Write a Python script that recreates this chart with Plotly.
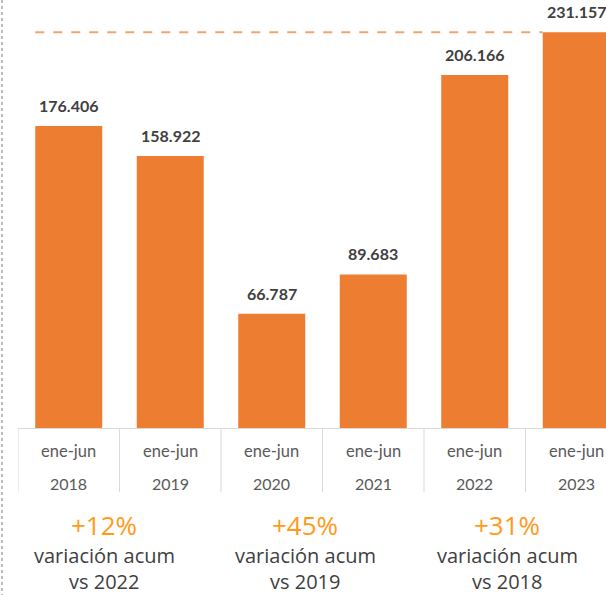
import plotly.graph_objects as go

periods = ["ene-jun"] * 6
years = ["2018", "2019", "2020", "2021", "2022", "2023"]
values = [176406, 158922, 66787, 89683, 206166, 231157]

var_pcts = ["+12%", "+45%", "+31%"]
var_text = ["variación acum", "variación acum", "variación acum"]
var_vs = ["vs 2022", "vs 2019", "vs 2018"]
var_pos = [0.35, 2.33, 4.32]

BAR = "#ED7D31"
DARK = "#404040"
GRAY = "#595959"
LABEL_FONT = "Lato"
NOTE_FONT = "Open Sans"

idx = list(range(len(years)))

fig = go.Figure()
fig.add_trace(go.Bar(
    x=idx, y=values, width=0.66,
    marker=dict(color=BAR, line=dict(width=0)),
    hoverinfo="skip",
))

shapes = []
# dashed reference line at the 2023 value
shapes.append(dict(type="line", xref="x", yref="y",
                   x0=idx[0] - 0.33, x1=idx[-1] - 0.33,
                   y0=values[-1], y1=values[-1],
                   line=dict(color="#F0A56E", width=2, dash="dash")))
# category separators below axis
for i in idx + [len(idx)]:
    shapes.append(dict(type="line", xref="x", yref="paper",
                       x0=i - 0.5, x1=i - 0.5, y0=0, y1=-0.15,
                       line=dict(color="#D9D9D9", width=1)))
# dotted left border
shapes.append(dict(type="line", xref="paper", yref="paper",
                   x0=-16 / 588, x1=-16 / 588, y0=1.0, y1=-167 / 428,
                   line=dict(color="#A6A6A6", width=1.5, dash="dot")))

ann = []
for i, v in enumerate(values):
    ann.append(dict(x=i, y=v, xref="x", yref="y", yshift=9,
                    text=f"{v:,}".replace(",", "."), showarrow=False,
                    yanchor="bottom",
                    font=dict(family=LABEL_FONT, size=16, color=DARK, weight="bold")))
for i, (p, yr) in enumerate(zip(periods, years)):
    ann.append(dict(x=i, y=0, xref="x", yref="paper", yshift=-23,
                    text=p, showarrow=False, yanchor="middle",
                    font=dict(family=LABEL_FONT, size=16.5, color=GRAY)))
    ann.append(dict(x=i, y=0, xref="x", yref="paper", yshift=-55,
                    text=yr, showarrow=False, yanchor="middle",
                    font=dict(family=LABEL_FONT, size=16, color=GRAY)))
for xp, a, b, c in zip(var_pos, var_pcts, var_text, var_vs):
    ann.append(dict(x=xp, y=0, xref="x", yref="paper", yshift=-97,
                    text=a, showarrow=False, yanchor="middle", borderpad=0,
                    font=dict(family=NOTE_FONT, size=26, color="#FF9A1A")))
    ann.append(dict(x=xp, y=0, xref="x", yref="paper", yshift=-127,
                    text=b, showarrow=False, yanchor="middle", borderpad=0,
                    font=dict(family=NOTE_FONT, size=20, color=DARK)))
    ann.append(dict(x=xp, y=0, xref="x", yref="paper", yshift=-153,
                    text=c, showarrow=False, yanchor="middle", borderpad=0,
                    font=dict(family=NOTE_FONT, size=20, color=DARK)))

fig.update_layout(
    width=606, height=595,
    margin=dict(l=18, r=0, t=0, b=167),
    paper_bgcolor="white", plot_bgcolor="white",
    showlegend=False,
    bargap=0.34,
    shapes=shapes, annotations=ann,
    xaxis=dict(range=[-0.5, -0.5 + 588 / 101.5], showticklabels=False,
               showgrid=False, zeroline=False, showline=True,
               linecolor="#D9D9D9", linewidth=1, ticks="", fixedrange=True),
    yaxis=dict(range=[0, 250000], visible=False, fixedrange=True),
)

fig.write_html(
    "out.html",
    config={"displayModeBar": False},
    post_script="document.body.style.margin='0';document.body.style.overflow='hidden';",
)
